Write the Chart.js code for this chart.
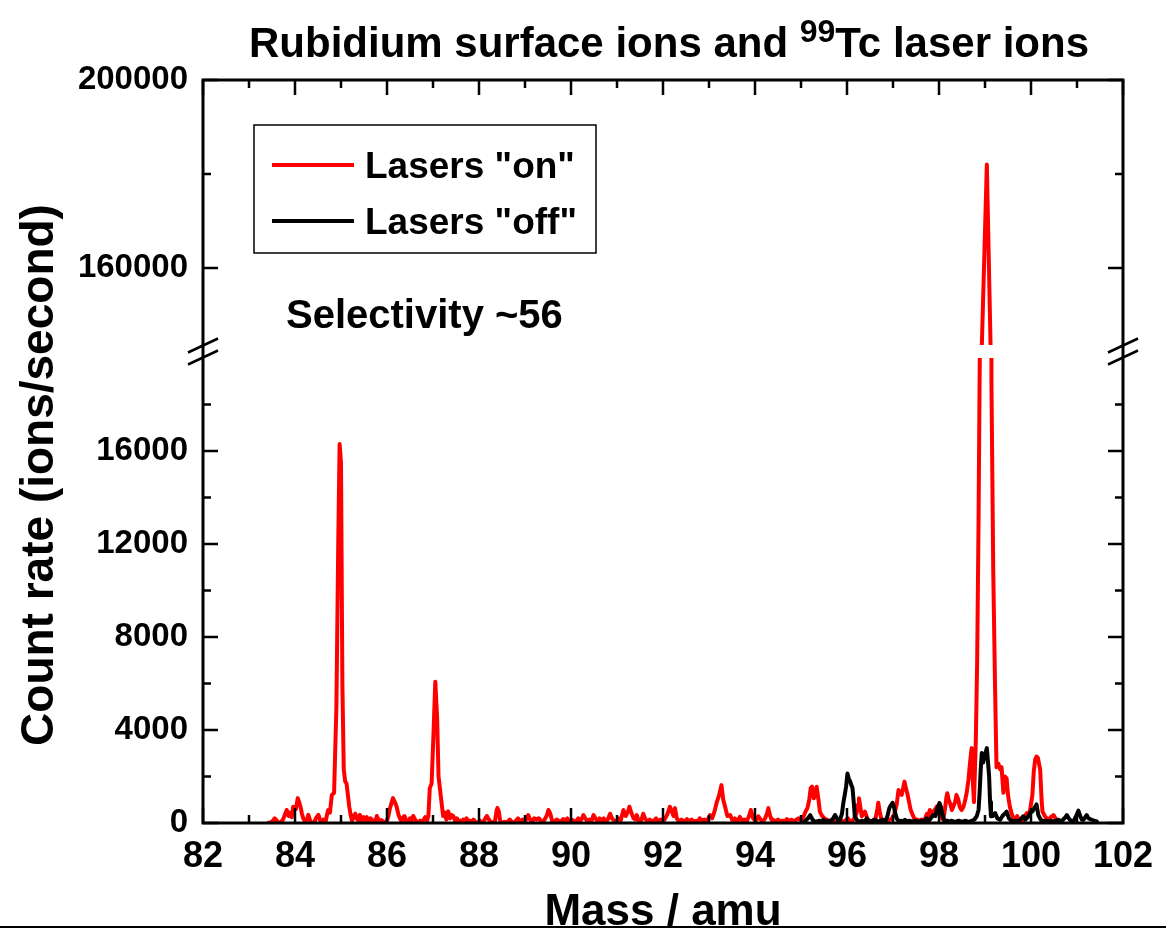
<!DOCTYPE html>
<html><head><meta charset="utf-8">
<script src="https://cdn.jsdelivr.net/npm/chart.js@4.4.1/dist/chart.umd.min.js"></script>
<style>html,body{margin:0;padding:0;background:#fff;}#wrap{width:1166px;height:930px;position:relative;}</style>
</head><body><div id="wrap"><canvas id="c" width="1166" height="930"></canvas></div>
<script>
// ---- text ----
const titleMain1 = "Rubidium surface ions and ";
const titleSup = "99";
const titleMain2 = "Tc laser ions";
const xTitle = "Mass / amu";
const yTitle = "Count rate (ions/second)";
const annotation = "Selectivity ~56";
const seriesNames = ['Lasers "on"', 'Lasers "off"'];
const seriesColors = ['#ff0000', '#000000'];

// ---- axes ----
const xRange = [82, 102];
const xMajorTicks = [82, 84, 86, 88, 90, 92, 94, 96, 98, 100, 102];
const xMinorTicks = [83, 85, 87, 89, 91, 93, 95, 97, 99, 101];
const yLowRange = [0, 20000];
const yLowMajorTicks = [0, 4000, 8000, 12000, 16000];
const yLowMinorTicks = [2000, 6000, 10000, 14000, 18000];
const yHighRange = [143600, 200000];
const yHighMajorTicks = [160000, 200000];
const yHighMinorTicks = [180000];

// ---- data: Lasers "on" ----
const redMass = [83.42,83.50,83.56,83.62,83.67,83.74,83.82,83.86,83.89,83.93,83.96,84.02,84.06,84.09,84.12,84.15,84.18,84.22,84.26,84.29,84.33,84.36,84.42,84.47,84.51,84.55,84.58,84.62,84.66,84.69,84.72,84.76,84.80,84.85,84.90,84.94,84.97,85.00,85.03,85.06,85.09,85.12,85.15,85.18,85.21,85.24,85.28,85.31,85.34,85.38,85.41,85.45,85.49,85.53,85.56,85.60,85.64,85.67,85.71,85.75,85.78,85.82,85.85,85.88,85.92,85.96,85.99,86.03,86.06,86.09,86.13,86.17,86.21,86.25,86.28,86.32,86.35,86.38,86.42,86.46,86.50,86.54,86.57,86.61,86.65,86.68,86.72,86.76,86.80,86.83,86.87,86.90,86.93,86.97,87.01,87.05,87.09,87.12,87.15,87.19,87.22,87.26,87.29,87.33,87.37,87.40,87.44,87.48,87.52,87.55,87.59,87.63,87.66,87.70,87.73,87.77,87.80,87.84,87.88,87.92,87.96,88.02,88.06,88.10,88.14,88.17,88.20,88.24,88.31,88.35,88.38,88.40,88.43,88.46,88.49,88.55,88.60,88.64,88.67,88.71,88.76,88.80,88.85,88.90,88.95,89.00,89.04,89.07,89.11,89.15,89.20,89.25,89.30,89.36,89.41,89.47,89.51,89.55,89.59,89.64,89.69,89.73,89.78,89.83,89.87,89.92,89.96,90.02,90.07,90.12,90.16,90.20,90.24,90.27,90.31,90.36,90.40,90.45,90.49,90.53,90.58,90.62,90.67,90.71,90.76,90.80,90.85,90.89,90.94,90.98,91.03,91.08,91.14,91.19,91.24,91.27,91.31,91.36,91.40,91.43,91.47,91.52,91.57,91.61,91.66,91.71,91.76,91.80,91.85,91.90,91.95,92.00,92.05,92.10,92.15,92.19,92.23,92.26,92.30,92.35,92.40,92.46,92.52,92.57,92.62,92.67,92.72,92.76,92.80,92.85,92.90,92.95,93.02,93.07,93.12,93.17,93.22,93.27,93.31,93.35,93.40,93.46,93.51,93.56,93.61,93.67,93.72,93.77,93.82,93.87,93.91,93.96,94.02,94.07,94.12,94.17,94.22,94.26,94.29,94.33,94.37,94.40,94.45,94.50,94.55,94.60,94.65,94.69,94.74,94.80,94.85,94.90,94.95,95.00,95.05,95.10,95.14,95.18,95.21,95.24,95.28,95.31,95.34,95.38,95.41,95.46,95.51,95.56,95.62,95.67,95.72,95.78,95.84,95.90,95.96,96.02,96.07,96.12,96.16,96.21,96.24,96.26,96.29,96.32,96.36,96.39,96.44,96.50,96.56,96.62,96.66,96.68,96.71,96.75,96.80,96.86,96.90,96.94,96.98,97.03,97.08,97.12,97.16,97.19,97.22,97.25,97.28,97.31,97.35,97.38,97.41,97.46,97.52,97.58,97.62,97.66,97.70,97.74,97.77,97.80,97.84,97.88,97.92,97.95,97.99,98.03,98.06,98.09,98.13,98.16,98.18,98.21,98.25,98.28,98.31,98.35,98.38,98.42,98.45,98.49,98.53,98.56,98.60,98.64,98.68,98.71,98.73,98.76,98.80,98.83,98.86,98.89,98.93,99.04,99.12,99.14,99.18,99.22,99.25,99.29,99.33,99.36,99.40,99.43,99.47,99.50,99.54,99.58,99.62,99.66,99.70,99.73,99.76,99.80,99.83,99.87,99.91,99.95,99.98,100.03,100.06,100.09,100.12,100.15,100.20,100.23,100.25,100.30,100.34,100.38,100.43,100.49,100.53,100.56,100.60,100.63];
const redRate = [0,50,200,60,0,150,560,300,450,250,700,600,1070,900,700,400,200,60,150,350,100,0,50,250,350,100,0,150,0,300,560,450,1200,1300,5000,12000,16300,15500,6000,2300,1800,1700,1200,700,350,100,300,400,200,100,350,100,250,100,250,50,200,150,0,100,300,120,50,120,60,0,50,300,600,800,1070,900,700,350,200,50,250,300,100,50,200,100,300,150,50,0,100,50,150,250,100,300,1500,1700,3800,6080,4500,2000,1500,800,300,450,150,500,200,350,300,100,200,50,100,0,150,50,200,0,100,50,150,50,0,100,0,60,200,300,200,80,0,100,500,650,500,100,0,50,0,100,150,50,0,100,200,50,150,80,200,340,150,50,200,150,200,50,100,300,560,400,100,60,150,100,50,170,100,200,50,150,60,100,200,80,200,340,200,60,150,100,340,200,60,200,100,200,60,150,400,200,100,60,200,100,560,300,500,700,450,200,150,340,100,60,400,200,60,150,60,100,200,50,150,60,200,400,700,500,300,640,200,60,150,50,170,60,150,50,100,60,200,100,150,60,340,200,500,900,1200,1630,1000,700,300,340,100,200,60,260,100,150,60,300,560,200,100,290,150,60,200,400,640,300,100,140,60,150,60,100,60,170,100,140,60,150,200,100,250,500,640,1000,1500,1560,1060,1300,1560,1000,490,300,200,140,60,150,60,70,150,60,100,200,70,100,200,430,800,1060,700,290,400,490,200,70,100,200,600,870,500,140,100,60,140,140,200,400,800,1420,1300,1210,1500,1780,1500,1280,900,600,430,200,140,100,150,70,200,400,300,560,350,500,600,700,400,300,200,140,600,1100,1280,1000,800,560,700,900,1210,1000,700,560,690,900,1280,1850,2700,3220,2000,900,3500,7000,13000,21000,143000,182000,144000,19000,10750,5700,2400,2560,2300,2400,1300,2000,1920,1200,700,400,200,150,300,100,70,200,70,300,430,350,560,1200,2200,2720,2860,2800,2290,1000,490,300,200,100,250,340,200,140,70,0];

// ---- data: Lasers "off" ----
const blackMass = [95.05,95.10,95.15,95.20,95.25,95.30,95.34,95.40,95.45,95.49,95.55,95.60,95.65,95.70,95.74,95.78,95.82,95.85,95.89,95.92,95.95,95.98,96.01,96.04,96.07,96.10,96.12,96.15,96.17,96.21,96.25,96.28,96.33,96.38,96.43,96.48,96.55,96.61,96.67,96.73,96.79,96.84,96.88,96.92,96.95,96.99,97.02,97.04,97.08,97.12,97.18,97.22,97.26,97.31,97.36,97.42,97.47,97.52,97.58,97.63,97.68,97.73,97.78,97.84,97.88,97.92,97.96,98.01,98.04,98.06,98.10,98.13,98.18,98.23,98.28,98.33,98.38,98.43,98.48,98.53,98.58,98.62,98.67,98.72,98.77,98.82,98.86,98.88,98.91,98.93,98.96,98.98,99.01,99.04,99.07,99.09,99.11,99.13,99.17,99.22,99.27,99.33,99.38,99.43,99.47,99.52,99.57,99.62,99.67,99.72,99.77,99.83,99.88,99.93,99.98,100.03,100.06,100.09,100.12,100.16,100.21,100.27,100.33,100.38,100.43,100.49,100.54,100.60,100.65,100.70,100.75,100.78,100.82,100.88,100.93,100.98,101.03,101.07,101.11,101.14,101.18,101.21,101.25,101.32,101.37,101.43];
const blackRate = [0,100,200,340,150,50,70,100,60,140,60,100,60,200,340,200,100,140,400,860,1200,1560,2130,1900,1780,1600,1500,800,290,150,50,70,100,50,200,60,100,140,60,100,140,100,300,640,750,870,700,490,200,70,100,60,140,60,100,50,100,70,60,100,60,200,100,250,340,300,600,860,700,490,200,70,100,60,100,50,70,100,60,70,100,50,70,100,150,290,560,1200,2400,3010,2600,2800,3000,3220,2500,1990,900,290,300,430,200,140,300,400,490,200,100,70,100,60,150,290,150,250,430,500,600,700,800,340,150,70,100,60,100,70,100,140,60,150,250,340,200,70,100,300,530,300,140,140,250,340,200,140,100,70];

const toPts = (xs, ys) => xs.map((x, i) => ({x: x, y: ys[i]}));

const FONT = '"Liberation Sans", Arial, Helvetica, sans-serif';
Chart.defaults.font.family = FONT;
Chart.defaults.font.weight = 'bold';
Chart.defaults.color = '#000';

function fixedTicks(list) { return (scale) => { scale.ticks = list.map(v => ({value: v})); }; }

const panelClip = {
  id: 'panelClip',
  beforeDatasetDraw(chart, args) {
    const ys = chart.scales[args.meta.yAxisID];
    const ca = chart.chartArea;
    const top = ys.id === 'yHigh' ? ys.top - 4 : ys.top;
    const bottom = ys.id === 'yLow' ? ys.bottom + 4 : ys.bottom;
    const ctx = chart.ctx;
    ctx.save();
    ctx.beginPath();
    ctx.rect(ca.left - 4, top, ca.right - ca.left + 8, bottom - top);
    ctx.clip();
  },
  afterDatasetDraw(chart) { chart.ctx.restore(); }
};

const frame = {
  id: 'frame',
  afterDatasetsDraw(chart) {
    const ctx = chart.ctx, ca = chart.chartArea;
    const xs = chart.scales.x, lo = chart.scales.yLow, hi = chart.scales.yHigh;
    ctx.save();
    ctx.strokeStyle = '#000';
    ctx.lineCap = 'butt';
    ctx.lineWidth = 3;
    ctx.strokeRect(ca.left, ca.top, ca.right - ca.left, ca.bottom - ca.top);
    const MAJ = 15, MIN = 8;
    ctx.lineWidth = 2.5;
    ctx.beginPath();
    const xt = (v, len) => {
      const px = xs.getPixelForValue(v);
      ctx.moveTo(px, ca.bottom); ctx.lineTo(px, ca.bottom - len);
      ctx.moveTo(px, ca.top); ctx.lineTo(px, ca.top + len);
    };
    xMajorTicks.forEach(v => xt(v, MAJ));
    xMinorTicks.forEach(v => xt(v, MIN));
    const yt = (sc, v, len) => {
      const py = sc.getPixelForValue(v);
      ctx.moveTo(ca.left, py); ctx.lineTo(ca.left + len, py);
      ctx.moveTo(ca.right, py); ctx.lineTo(ca.right - len, py);
    };
    yLowMajorTicks.forEach(v => yt(lo, v, MAJ));
    yLowMinorTicks.forEach(v => yt(lo, v, MIN));
    yHighMajorTicks.forEach(v => yt(hi, v, MAJ));
    yHighMinorTicks.forEach(v => yt(hi, v, MIN));
    ctx.stroke();
    // break marks
    const yc = (hi.bottom + lo.top) / 2;
    ctx.lineWidth = 2.5;
    ctx.beginPath();
    [ca.left, ca.right].forEach(x0 => {
      [-6, 6].forEach(d => {
        ctx.moveTo(x0 - 15, yc + d + 7);
        ctx.lineTo(x0 + 15, yc + d - 7);
      });
    });
    ctx.stroke();
    ctx.restore();
  }
};

const texts = {
  id: 'texts',
  afterDraw(chart) {
    const ctx = chart.ctx;
    ctx.save();
    ctx.fillStyle = '#000';
    ctx.textBaseline = 'alphabetic';
    // title with superscript
    const fMain = 'bold 42px ' + FONT, fSup = 'bold 32px ' + FONT;
    ctx.font = fMain;
    const w1 = ctx.measureText(titleMain1).width, w3 = ctx.measureText(titleMain2).width;
    ctx.font = fSup;
    const w2 = ctx.measureText(titleSup).width;
    let x = 669 - (w1 + w2 + w3) / 2;
    ctx.textAlign = 'left';
    ctx.font = fMain; ctx.fillText(titleMain1, x, 57); x += w1;
    ctx.font = fSup; ctx.fillText(titleSup, x, 42); x += w2;
    ctx.font = fMain; ctx.fillText(titleMain2, x, 57);
    // axis titles
    ctx.textAlign = 'center';
    ctx.font = 'bold 44px ' + FONT;
    ctx.fillText(xTitle, 663, 925);
    ctx.font = 'bold 46px ' + FONT;
    ctx.save();
    ctx.translate(53, 475);
    ctx.rotate(-Math.PI / 2);
    ctx.fillText(yTitle, 0, 0);
    ctx.restore();
    // annotation
    ctx.font = 'bold 40px ' + FONT;
    ctx.textAlign = 'left';
    ctx.fillText(annotation, 286, 328);
    // legend
    ctx.lineWidth = 1.5;
    ctx.strokeStyle = '#000';
    ctx.strokeRect(254, 125, 342, 128);
    ctx.font = 'bold 37px ' + FONT;
    const legY = [165, 221];
    seriesNames.forEach((name, i) => {
      ctx.strokeStyle = seriesColors[i];
      ctx.lineWidth = 4;
      ctx.beginPath(); ctx.moveTo(272, legY[i]); ctx.lineTo(354, legY[i]); ctx.stroke();
      ctx.fillText(name, 365, legY[i] + 13);
    });
    // bottom rule
    ctx.strokeStyle = '#000';
    ctx.lineWidth = 2;
    ctx.beginPath(); ctx.moveTo(0, 927); ctx.lineTo(1166, 927); ctx.stroke();
    ctx.restore();
  }
};

const lineStyle = (i) => ({borderColor: seriesColors[i], backgroundColor: seriesColors[i], borderWidth: 4, pointRadius: 0, tension: 0, fill: false, borderJoinStyle: 'round', borderCapStyle: 'round'});

new Chart(document.getElementById('c'), {
  type: 'line',
  data: {
    datasets: [
      Object.assign({label: seriesNames[0], data: toPts(redMass, redRate), yAxisID: 'yLow', order: 2}, lineStyle(0)),
      Object.assign({label: seriesNames[0], data: toPts(redMass, redRate), yAxisID: 'yHigh', order: 2}, lineStyle(0)),
      Object.assign({label: seriesNames[1], data: toPts(blackMass, blackRate), yAxisID: 'yLow', order: 1}, lineStyle(1)),
      Object.assign({label: seriesNames[1], data: toPts(blackMass, blackRate), yAxisID: 'yHigh', order: 1}, lineStyle(1))
    ]
  },
  options: {
    responsive: false,
    animation: false,
    devicePixelRatio: 1,
    layout: {padding: {top: 80, right: 43, left: 0, bottom: 0}},
    plugins: {legend: {display: false}, tooltip: {enabled: false}, title: {display: false}},
    scales: {
      x: {
        type: 'linear', position: 'bottom', min: xRange[0], max: xRange[1],
        afterBuildTicks: fixedTicks(xMajorTicks),
        afterFit: (s) => { s.height = 107; },
        ticks: {font: {size: 36, weight: 'bold'}, padding: 12, autoSkip: false, maxRotation: 0, callback: (v) => String(v)},
        grid: {display: false, drawTicks: false}, border: {display: false}
      },
      yHigh: {
        type: 'linear', position: 'left', stack: 'y', stackWeight: 265, weight: 3,
        min: yHighRange[0], max: yHighRange[1],
        afterBuildTicks: fixedTicks(yHighMajorTicks),
        afterFit: (s) => { s.width = 203; },
        ticks: {font: {size: 33, weight: 'bold'}, padding: 15, autoSkip: false, callback: (v) => String(v)},
        grid: {display: false, drawTicks: false}, border: {display: false}
      },
      yGap: {
        type: 'linear', position: 'left', stack: 'y', stackWeight: 13, weight: 2,
        min: 0, max: 1,
        afterFit: (s) => { s.width = 203; },
        ticks: {display: false},
        grid: {display: false, drawTicks: false}, border: {display: false}
      },
      yLow: {
        type: 'linear', position: 'left', stack: 'y', stackWeight: 465, weight: 1,
        min: yLowRange[0], max: yLowRange[1],
        afterBuildTicks: fixedTicks(yLowMajorTicks),
        afterFit: (s) => { s.width = 203; },
        ticks: {font: {size: 33, weight: 'bold'}, padding: 15, autoSkip: false, callback: (v) => String(v)},
        grid: {display: false, drawTicks: false}, border: {display: false}
      }
    }
  },
  plugins: [panelClip, frame, texts]
});
</script>
</body></html>
